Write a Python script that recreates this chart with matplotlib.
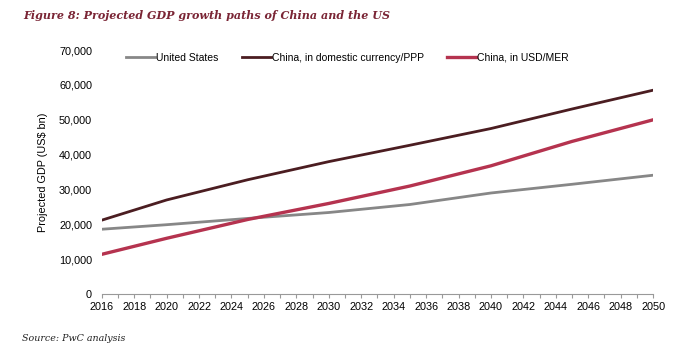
import matplotlib.pyplot as plt
from matplotlib.ticker import FuncFormatter, MultipleLocator

years = [2016, 2020, 2025, 2030, 2035, 2040, 2045, 2050]
us = [18600, 19900, 21700, 23400, 25700, 29000, 31500, 34100]
china_ppp = [21200, 27000, 32800, 38000, 42700, 47500, 53100, 58500]
china_mer = [11400, 16000, 21400, 26000, 31000, 36800, 43800, 50000]

series_names = ["United States", "China, in domestic currency/PPP", "China, in USD/MER"]
x_ticks = list(range(2016, 2051, 2))
y_ticks = list(range(0, 70001, 10000))


def main() -> None:
    plt.rcParams["font.family"] = ["Liberation Sans", "DejaVu Sans"]

    fig = plt.figure(figsize=(6.97, 3.53), dpi=100)
    ax = fig.add_axes([0.146, 0.167, 0.791, 0.691])

    ax.plot(years, us, color="#878787", lw=2.0, label=series_names[0])
    ax.plot(years, china_ppp, color="#4b1d21", lw=2.0, label=series_names[1])
    ax.plot(years, china_mer, color="#b5334f", lw=2.4, label=series_names[2])

    ax.set_xlim(2016, 2050)
    ax.set_ylim(0, 70000)
    ax.set_xticks(x_ticks)
    ax.xaxis.set_minor_locator(MultipleLocator(1))
    ax.set_yticks(y_ticks)
    ax.yaxis.set_major_formatter(FuncFormatter(lambda v, _: f"{int(v):,}"))

    ax.tick_params(axis="x", which="both", direction="out", length=3, width=0.8,
                   color="#999999", labelsize=7.8, pad=3)
    ax.tick_params(axis="y", length=0, labelsize=7.8, pad=7)

    for side in ["top", "right", "left"]:
        ax.spines[side].set_visible(False)
    ax.spines["bottom"].set_color("#999999")
    ax.spines["bottom"].set_linewidth(0.8)

    ax.set_ylabel("Projected GDP (US$ bn)", fontsize=7.8, labelpad=8)

    ax.legend(loc="upper left", bbox_to_anchor=(0.027, 1.027), ncol=3, frameon=False,
              fontsize=7.5, handlelength=2.8, handletextpad=0.1, columnspacing=2.2)

    fig.text(0.033, 0.955, "Figure 8: Projected GDP growth paths of China and the US",
             family="DejaVu Serif", style="italic", weight="bold", fontsize=8.0,
             color="#7a2535", va="center")
    fig.text(0.031, 0.042, "Source: PwC analysis", family="DejaVu Serif",
             style="italic", fontsize=6.8, color="#222222", va="center")

    fig.savefig("out.png", dpi=100)


if __name__ == "__main__":
    main()
